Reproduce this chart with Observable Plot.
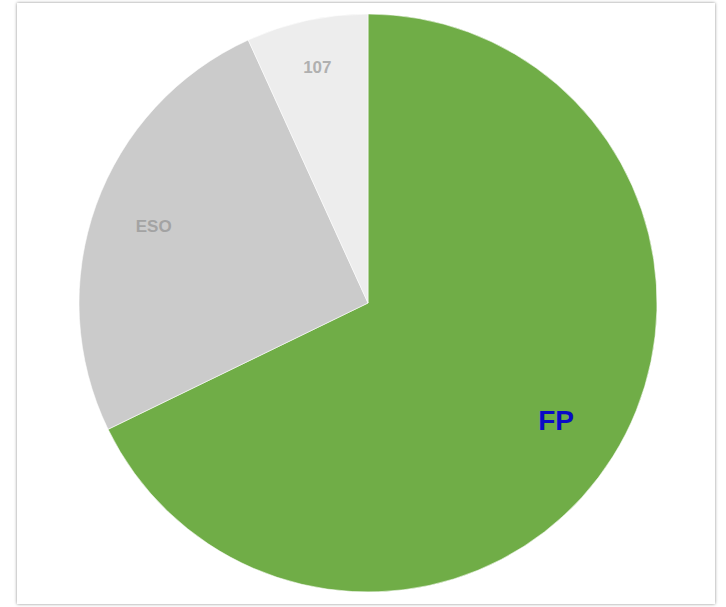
<!DOCTYPE html>
<html>
<head>
<meta charset="utf-8">
<script src="https://cdn.jsdelivr.net/npm/d3@7"></script>
<script src="https://cdn.jsdelivr.net/npm/@observablehq/plot@0.6"></script>
<style>
  html, body { margin: 0; padding: 0; background: #ffffff; }
  #wrap { position: relative; width: 726px; height: 607px; overflow: hidden; }
  #card { position: absolute; left: 17px; top: 3px; width: 698px; height: 601px; background: #fff;
          box-shadow: 0 0 3px rgba(0,0,0,0.45); }
  #chart { position: absolute; left: 0; top: 0; }
  #chart svg { display: block; background: transparent; }
</style>
</head>
<body>
<div id="wrap"><div id="card"></div><div id="chart"></div></div>
<script>
// Data
const categories = ["FP", "ESO", "107"];
const values = [67.8, 25.4, 6.8];

// Styles (kept apart from data)
const colors = ["#70ad47", "#cbcbcb", "#ededed"];
const labelColors = ["#0a0ac8", "#a3a3a3", "#b0b0b0"];
const labelSizes = [28, 17, 17];
const labelRadius = [0.766, 0.79, 0.835];

const data = categories.map((c, i) => ({category: c, value: values[i], i}));

const pie = d3.pie().sort(null).value(d => d.value);
const arcs = pie(data);
const labels = arcs.map(a => {
  const r = labelRadius[a.data.i];
  const [cx, cy] = d3.arc().innerRadius(r).outerRadius(r).centroid(a);
  return {...a.data, lx: cx, ly: -cy};
});

function pieMark(index, scales, values, dimensions) {
  const cx = scales.x(0), cy = scales.y(0);
  const r = scales.x(1) - scales.x(0);
  const arc = d3.arc().innerRadius(0).outerRadius(r);
  const g = d3.create("svg:g").attr("transform", `translate(${cx},${cy})`);
  g.selectAll("path").data(arcs).join("path")
    .attr("d", arc)
    .attr("fill", d => colors[d.data.i])
    .attr("stroke", "#ffffff")
    .attr("stroke-width", 0.8)
    .attr("stroke-opacity", 0.7);
  return g.node();
}

const marks = [pieMark];
labels.forEach(l => {
  marks.push(Plot.text([l], {
    x: "lx", y: "ly", text: "category",
    fill: labelColors[l.i],
    fontSize: labelSizes[l.i],
    fontWeight: "bold",
    fontFamily: "Liberation Sans, Arial, sans-serif"
  }));
});

const chart = Plot.plot({
  width: 726,
  height: 607,
  margin: 0,
  x: {domain: [-1, 1], range: [368 - 289, 368 + 289], axis: null},
  y: {domain: [-1, 1], range: [303 + 289, 303 - 289], axis: null},
  style: {background: "transparent"},
  marks
});
document.getElementById("chart").appendChild(chart);
</script>
</body>
</html>
